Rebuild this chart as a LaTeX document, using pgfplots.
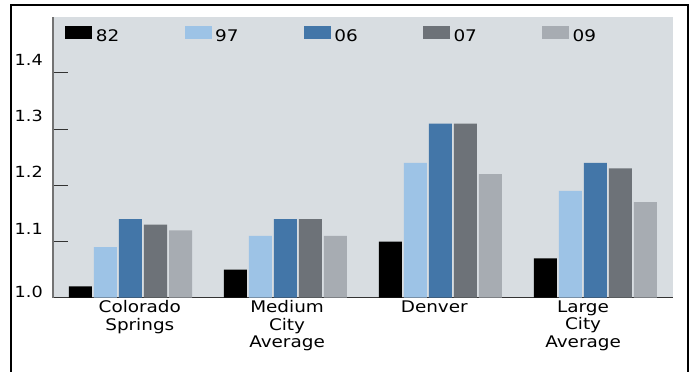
\documentclass[border=0pt]{standalone}
\usepackage{fontspec}
\setmainfont{DejaVu Sans}[FakeStretch=1.15]
\usepackage{pgfplots}
\pgfplotsset{compat=1.18}

\definecolor{bg}{RGB}{216,221,225}
\definecolor{c82}{RGB}{0,0,0}
\definecolor{c97}{RGB}{157,195,230}
\definecolor{c06}{RGB}{67,118,168}
\definecolor{c07}{RGB}{109,114,120}
\definecolor{c09}{RGB}{167,172,178}

\pgfplotsset{swatch/.style={legend image code/.code={\fill[##1] (0pt,-1.3pt) rectangle (20.25pt,8.45pt);}}}

\begin{document}
\begin{tikzpicture}
\useasboundingbox (0,0) rectangle (520.5pt,279pt);
% outer frame, open at the bottom
\draw[line width=1.5pt] (8.25pt,0) -- (8.25pt,274.9pt) -- (516pt,274.9pt) -- (516pt,0);
\begin{axis}[
  at={(39.75pt,55.7pt)}, anchor=south west,
  scale only axis, width=465pt, height=210.75pt,
  xmin=-0.5, xmax=3.5, ymin=1.0, ymax=1.5,
  axis background/.style={fill=bg},
  axis lines=left, axis line style={-},
  x axis line style={draw=black!80, line width=0.75pt},
  y axis line style={draw=black!55, line width=1.1pt},
  tick align=inside, major tick length=11.25pt,
  ytick={1.0,1.1,1.2,1.3,1.4},
  yticklabels={\raisebox{-5.6pt}{1.0},1.1,1.2,1.3,1.4},
  yticklabel style={anchor=base east, inner sep=0pt, xshift=-7.5pt, yshift=5.6pt,
    font=\fontsize{11.5pt}{12pt}\selectfont},
  y tick style={draw=black!80, line width=0.75pt},
  xtick={0.06,1.01,1.96,2.92},
  xticklabels={Colorado\\Springs, Medium\\City\\Average, Denver, Large\\City\\Average},
  x tick style={draw=none},
  xticklabel style={align=center, anchor=north, inner sep=0pt, yshift=9.4pt,
    font=\fontsize{12pt}{13.1pt}\selectfont},
  ybar=1.5pt, bar width=17.25pt,
  legend columns=5,
  legend style={at={(0.0194,0.969)}, anchor=north west, draw=none, fill=none,
    inner sep=0pt, column sep=0pt, font=\fontsize{12pt}{14pt}\selectfont,
    nodes={inner xsep=2.7pt, inner ysep=0pt},
    /tikz/every even column/.append style={column sep=46.2pt}},
]
\addplot[fill=c82, draw=none, swatch] coordinates {(0,1.02) (1,1.05) (2,1.10) (3,1.07)};
\addplot[fill=c97, draw=none, swatch] coordinates {(0,1.09) (1,1.11) (2,1.24) (3,1.19)};
\addplot[fill=c06, draw=none, swatch] coordinates {(0,1.14) (1,1.14) (2,1.31) (3,1.24)};
\addplot[fill=c07, draw=none, swatch] coordinates {(0,1.13) (1,1.14) (2,1.31) (3,1.23)};
\addplot[fill=c09, draw=none, swatch] coordinates {(0,1.12) (1,1.11) (2,1.22) (3,1.17)};
\legend{82,97,06,07,09}
\end{axis}
\end{tikzpicture}
\end{document}
